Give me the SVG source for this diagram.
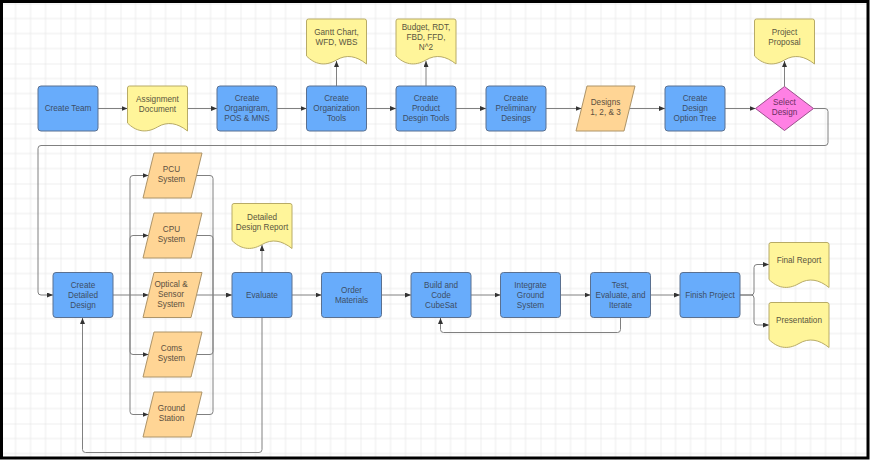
<svg xmlns="http://www.w3.org/2000/svg" width="870" height="460" viewBox="0 0 870 460">
  <defs>
    <pattern id="grid" x="0.5" y="3.5" width="60" height="60" patternUnits="userSpaceOnUse">
      <path d="M15 0V60M30 0V60M45 0V60M0 15H60M0 30H60M0 45H60" stroke="#ececec" stroke-width="1" fill="none"/>
      <path d="M0 0V60M0 0H60" stroke="#e0e0e0" stroke-width="1" fill="none"/>
    </pattern>
    <marker id="arrow" viewBox="0 0 6 5" refX="6" refY="2.5" markerWidth="6" markerHeight="5" markerUnits="userSpaceOnUse" orient="auto">
      <path d="M0 0L6 2.5L0 5z" fill="#333"/>
    </marker>
    <!-- document shape, 60 x 45, wavy bottom -->
    <path id="docShape" d="M0 2Q0 0 2 0H58Q60 0 60 2V45C50 37 40 35 30 41C18 48 8 45 0 37Z"/>
  </defs>
  <style>
    text { font-family: "Liberation Sans", Arial, sans-serif; font-size: 8.2px; text-anchor: middle; }
    .proc rect { fill: #68acfb; stroke: #5a7090; stroke-width: 1; }
    .proc text { fill: #3d4e66; }
    .doc use { fill: #fff59a; stroke: #b8ab66; stroke-width: 1; }
    .doc text { fill: #5a5640; }
    .data polygon { fill: #ffd595; stroke: #ad9468; stroke-width: 1; stroke-linejoin: round; }
    .data text { fill: #5c5040; }
    .decision polygon { fill: #ff80e4; stroke: #9a4f8c; stroke-width: 1; stroke-linejoin: round; }
    .decision text { fill: #6a2f60; }
    #connectors path { fill: none; stroke: #808080; stroke-width: 1; }
    #connectors .a { marker-end: url(#arrow); }
  </style>

  <!-- canvas with grid and frame -->
  <rect x="0" y="0" width="870" height="460" fill="#ffffff"/>
  <rect x="0" y="0" width="870" height="460" fill="url(#grid)"/>
  <rect x="1.5" y="1.5" width="866.5" height="456.5" fill="none" stroke="#000" stroke-width="3"/>

  <g id="connectors">
    <!-- top row -->
    <path class="a" d="M98 108.5H127.5"/>
    <path class="a" d="M187.5 108.5H217"/>
    <path class="a" d="M277 108.5H306.5"/>
    <path class="a" d="M366.5 108.5H396"/>
    <path class="a" d="M456 108.5H486"/>
    <path class="a" d="M546 108.5H581.5"/>
    <path class="a" d="M629.5 108.5H665"/>
    <path class="a" d="M725 108.5H755.5"/>
    <path class="a" d="M336.5 86V61"/>
    <path class="a" d="M426 86V61"/>
    <path class="a" d="M784.5 86.5V61"/>
    <!-- loop from decision down to detailed design -->
    <path class="a" d="M813.5 108.5H825Q828 108.5 828 111.5V142.5Q828 145.5 825 145.5H41Q38 145.5 38 148.5V292Q38 295 41 295H53"/>
    <!-- fan out to subsystems -->
    <path class="a" d="M113 295H148.5"/>
    <path class="a" d="M130 295V178.5Q130 175.5 133 175.5H148.5"/>
    <path class="a" d="M130 295V238.5Q130 235.5 133 235.5H148.5"/>
    <path class="a" d="M130 295V351.5Q130 354.5 133 354.5H148.5"/>
    <path class="a" d="M130 295V411.5Q130 414.5 133 414.5H148.5"/>
    <!-- fan in to evaluate -->
    <path d="M196.5 175.5H210Q213 175.5 213 178.5V295"/>
    <path d="M196.5 235.5H210Q213 235.5 213 238.5V295"/>
    <path d="M196.5 354.5H210Q213 354.5 213 351.5V295"/>
    <path d="M196.5 414.5H210Q213 414.5 213 411.5V295"/>
    <path class="a" d="M196.5 295H232"/>
    <!-- evaluate outputs -->
    <path class="a" d="M262 273V245"/>
    <path class="a" d="M262 318V449.5Q262 452.5 259 452.5H85.5Q82.5 452.5 82.5 449.5V318"/>
    <!-- bottom row -->
    <path class="a" d="M292 295H321.5"/>
    <path class="a" d="M381.5 295H411"/>
    <path class="a" d="M471 295H500.5"/>
    <path class="a" d="M560.5 295H590.5"/>
    <path class="a" d="M650.5 295H680"/>
    <path class="a" d="M620.5 318V329.5Q620.5 332.5 617.5 332.5H443.5Q440.5 332.5 440.5 329.5V318"/>
    <path class="a" d="M740 295H751Q754 295 754 292V267.5Q754 264.5 757 264.5H769"/>
    <path class="a" d="M740 295H751Q754 295 754 298V322Q754 325 757 325H769"/>
  </g>

  <!-- top row -->
  <g id="create-team" class="proc">
    <rect x="38" y="86" width="60" height="45" rx="3"/>
    <text x="68" y="111.3">Create Team</text>
  </g>
  <g id="assignment-document" class="doc">
    <use href="#docShape" x="127.5" y="86"/>
    <text x="157.5" y="102.2">Assignment</text>
    <text x="157.5" y="112.2">Document</text>
  </g>
  <g id="create-organigram" class="proc">
    <rect x="217" y="86" width="60" height="45" rx="3"/>
    <text x="247" y="101.3">Create</text>
    <text x="247" y="111.3">Organigram,</text>
    <text x="247" y="121.3">POS &amp; MNS</text>
  </g>
  <g id="create-organization-tools" class="proc">
    <rect x="306.5" y="86" width="60" height="45" rx="3"/>
    <text x="336.5" y="101.3">Create</text>
    <text x="336.5" y="111.3">Organization</text>
    <text x="336.5" y="121.3">Tools</text>
  </g>
  <g id="gantt-chart" class="doc">
    <use href="#docShape" x="306.5" y="19"/>
    <text x="336.5" y="35.2">Gantt Chart,</text>
    <text x="336.5" y="45.2">WFD, WBS</text>
  </g>
  <g id="create-product-design-tools" class="proc">
    <rect x="396" y="86" width="60" height="45" rx="3"/>
    <text x="426" y="101.3">Create</text>
    <text x="426" y="111.3">Product</text>
    <text x="426" y="121.3">Desgin Tools</text>
  </g>
  <g id="budget-rdt" class="doc">
    <use href="#docShape" x="396" y="19"/>
    <text x="426" y="29.8">Budget, RDT,</text>
    <text x="426" y="39.8">FBD, FFD,</text>
    <text x="426" y="49.8">N^2</text>
  </g>
  <g id="create-preliminary-designs" class="proc">
    <rect x="486" y="86" width="60" height="45" rx="3"/>
    <text x="516" y="101.3">Create</text>
    <text x="516" y="111.3">Preliminary</text>
    <text x="516" y="121.3">Desings</text>
  </g>
  <g id="designs-123" class="data">
    <polygon points="587,86 635,86 624,131 576,131"/>
    <text x="605.5" y="105.2">Designs</text>
    <text x="605.5" y="115.2">1, 2, &amp; 3</text>
  </g>
  <g id="create-design-option-tree" class="proc">
    <rect x="665" y="86" width="60" height="45" rx="3"/>
    <text x="695" y="101.3">Create</text>
    <text x="695" y="111.3">Design</text>
    <text x="695" y="121.3">Option Tree</text>
  </g>
  <g id="select-design" class="decision">
    <polygon points="784.5,86.5 813.5,108.5 784.5,130.5 755.5,108.5"/>
    <text x="784.5" y="105.2">Select</text>
    <text x="784.5" y="115.2">Design</text>
  </g>
  <g id="project-proposal" class="doc">
    <use href="#docShape" x="754.5" y="19"/>
    <text x="784.5" y="35.2">Project</text>
    <text x="784.5" y="45.2">Proposal</text>
  </g>

  <!-- detailed design stage -->
  <g id="create-detailed-design" class="proc">
    <rect x="53" y="272.5" width="60" height="45" rx="3"/>
    <text x="83" y="287.8">Create</text>
    <text x="83" y="297.8">Detailed</text>
    <text x="83" y="307.8">Design</text>
  </g>
  <g id="pcu-system" class="data">
    <polygon points="154,153 202,153 191,198 143,198"/>
    <text x="171.5" y="172.2">PCU</text>
    <text x="171.5" y="182.2">System</text>
  </g>
  <g id="cpu-system" class="data">
    <polygon points="154,213 202,213 191,258 143,258"/>
    <text x="171.5" y="232.2">CPU</text>
    <text x="171.5" y="242.2">System</text>
  </g>
  <g id="optical-sensor-system" class="data">
    <polygon points="154,272.5 202,272.5 191,317.5 143,317.5"/>
    <text x="171" y="286.9">Optical &amp;</text>
    <text x="171" y="296.9">Sensor</text>
    <text x="171" y="306.9">System</text>
  </g>
  <g id="coms-system" class="data">
    <polygon points="154,332 202,332 191,377 143,377"/>
    <text x="171.5" y="351.2">Coms</text>
    <text x="171.5" y="361.2">System</text>
  </g>
  <g id="ground-station" class="data">
    <polygon points="154,392 202,392 191,437 143,437"/>
    <text x="171.5" y="411.2">Ground</text>
    <text x="171.5" y="421.2">Station</text>
  </g>
  <g id="evaluate" class="proc">
    <rect x="232" y="272.5" width="60" height="45" rx="3"/>
    <text x="262" y="297.8">Evaluate</text>
  </g>
  <g id="detailed-design-report" class="doc">
    <use href="#docShape" x="232" y="203.5"/>
    <text x="262" y="219.6">Detailed</text>
    <text x="262" y="229.6">Design Report</text>
  </g>

  <!-- build and close-out stage -->
  <g id="order-materials" class="proc">
    <rect x="321.5" y="272.5" width="60" height="45" rx="3"/>
    <text x="351.5" y="292.8">Order</text>
    <text x="351.5" y="302.8">Materials</text>
  </g>
  <g id="build-code-cubesat" class="proc">
    <rect x="411" y="272.5" width="60" height="45" rx="3"/>
    <text x="441" y="287.8">Build and</text>
    <text x="441" y="297.8">Code</text>
    <text x="441" y="307.8">CubeSat</text>
  </g>
  <g id="integrate-ground-system" class="proc">
    <rect x="500.5" y="272.5" width="60" height="45" rx="3"/>
    <text x="530.5" y="287.8">Integrate</text>
    <text x="530.5" y="297.8">Ground</text>
    <text x="530.5" y="307.8">System</text>
  </g>
  <g id="test-evaluate-iterate" class="proc">
    <rect x="590.5" y="272.5" width="60" height="45" rx="3"/>
    <text x="620.5" y="287.8">Test,</text>
    <text x="620.5" y="297.8">Evaluate, and</text>
    <text x="620.5" y="307.8">Iterate</text>
  </g>
  <g id="finish-project" class="proc">
    <rect x="680" y="272.5" width="60" height="45" rx="3"/>
    <text x="710" y="297.8">Finish Project</text>
  </g>
  <g id="final-report" class="doc">
    <use href="#docShape" x="769" y="242.5"/>
    <text x="799" y="263.2">Final Report</text>
  </g>
  <g id="presentation" class="doc">
    <use href="#docShape" x="769" y="302.5"/>
    <text x="799" y="323">Presentation</text>
  </g>
</svg>
